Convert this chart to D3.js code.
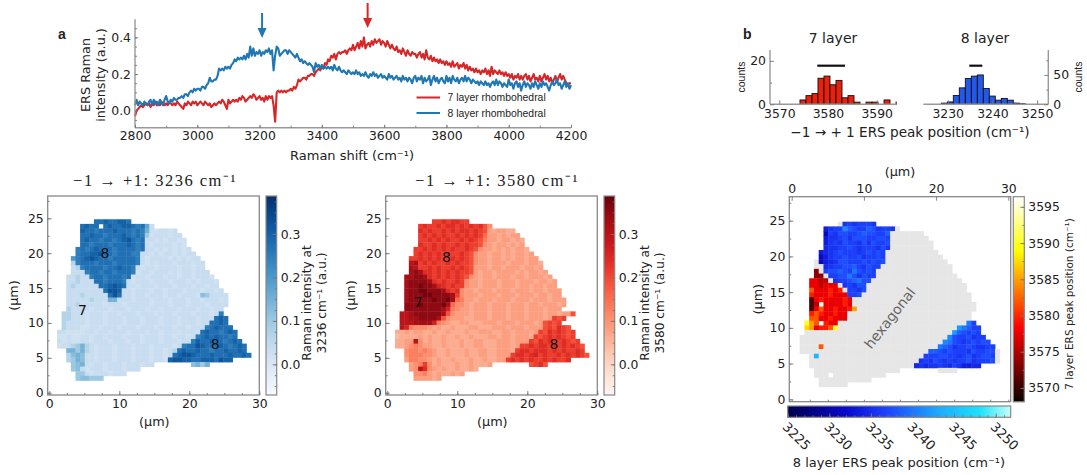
<!DOCTYPE html>
<html>
<head>
<meta charset="utf-8">
<script src="https://cdn.jsdelivr.net/npm/d3@7"></script>
<style>
  html, body { margin: 0; padding: 0; background: #fff; }
  svg { display: block; font-family: "DejaVu Sans", sans-serif; }
  .tick text { fill: #222; font-size: 12.4px; font-family: "DejaVu Sans", sans-serif; }
  .domain { display: none; }
  .tick line { stroke: #777; stroke-width: 0.9; }
</style>
</head>
<body>
<svg id="chart" width="1087" height="475"></svg>
<script>
// spectra, one value every 5 cm-1 from 2800 to 4200
const shiftStart = 2800;
const shiftStep = 5;
const layer7Spectrum = [
  -.03,.00,.01,.02,.03,.02,.03,.04,.03,.04,.02,.04,.03,.05,.03,.04,.03,.05,.04,.03,
  .04,.03,.05,.04,.03,.04,.03,.05,.04,.03,.02,.01,.04,.03,.05,.04,.03,.05,.04,.05,
  .03,.04,.05,.04,.03,.05,.04,.03,.04,.02,.03,.04,.03,.04,.05,.04,.06,.05,.03,.01,
  .06,.04,.05,.06,.05,.06,.05,.07,.06,.08,.07,.05,.06,.07,.08,.07,.09,.08,.06,.07,
  .08,.06,.07,.05,.08,.06,.08,.07,.08,.03,-.06,.10,.11,.10,.11,.10,.11,.10,.11,.11,
  .12,.11,.13,.12,.14,.17,.16,.17,.18,.18,.17,.19,.19,.20,.20,.19,.21,.22,.23,.22,
  .24,.23,.26,.25,.28,.27,.30,.29,.31,.28,.31,.32,.31,.32,.32,.33,.31,.33,.34,.33,
  .36,.33,.35,.37,.34,.38,.35,.40,.34,.36,.37,.35,.38,.36,.39,.37,.38,.39,.36,.38,
  .37,.35,.38,.36,.34,.36,.34,.33,.35,.32,.33,.31,.34,.32,.30,.33,.31,.30,.32,.31,
  .31,.29,.31,.32,.29,.31,.28,.33,.29,.28,.30,.27,.29,.27,.28,.26,.28,.26,.27,.25,
  .27,.25,.26,.24,.27,.24,.25,.26,.23,.25,.24,.26,.23,.25,.22,.24,.22,.23,.21,.23,
  .21,.22,.20,.22,.21,.23,.20,.22,.19,.24,.20,.22,.21,.20,.22,.20,.21,.19,.21,.19,
  .20,.18,.20,.17,.19,.18,.20,.17,.19,.17,.19,.20,.17,.19,.16,.18,.20,.17,.18,.16,
  .19,.16,.18,.20,.17,.19,.16,.18,.15,.17,.19,.16,.18,.20,.17,.19,.17,.15,.14,.15,
  .15
];
const layer8Spectrum = [
  .03,.06,.03,.05,.04,.03,.05,.04,.03,.05,.06,.03,.06,.04,.05,.03,.06,.04,.03,.06,
  .08,.05,.04,.06,.05,.07,.06,.06,.07,.07,.08,.07,.09,.09,.08,.10,.11,.10,.12,.11,
  .12,.12,.11,.13,.13,.12,.14,.15,.18,.16,.16,.17,.17,.19,.23,.22,.23,.22,.24,.23,
  .24,.23,.25,.26,.28,.27,.29,.28,.29,.28,.30,.28,.31,.29,.35,.30,.34,.30,.32,.31,
  .33,.30,.32,.31,.33,.32,.34,.31,.33,.22,.30,.35,.34,.30,.31,.32,.33,.33,.31,.33,
  .32,.31,.30,.29,.31,.29,.27,.28,.26,.27,.26,.25,.26,.25,.24,.21,.26,.24,.25,.23,
  .25,.23,.24,.23,.24,.23,.24,.22,.25,.23,.22,.24,.22,.21,.22,.21,.20,.22,.21,.20,
  .21,.20,.22,.20,.21,.19,.20,.19,.21,.19,.18,.20,.19,.21,.19,.20,.18,.19,.20,.18,
  .19,.18,.17,.20,.18,.19,.17,.18,.19,.17,.18,.16,.19,.17,.18,.16,.18,.17,.15,.18,
  .19,.16,.18,.17,.19,.15,.18,.16,.17,.19,.14,.17,.19,.16,.18,.15,.17,.18,.16,.15,
  .19,.16,.18,.15,.19,.17,.16,.18,.15,.17,.18,.16,.19,.16,.18,.17,.15,.17,.16,.15,
  .16,.14,.16,.15,.14,.16,.14,.15,.13,.15,.16,.14,.17,.14,.16,.15,.13,.15,.14,.13,
  .17,.14,.15,.12,.15,.16,.13,.15,.11,.14,.16,.13,.15,.14,.12,.15,.13,.16,.14,.12,
  .15,.13,.16,.14,.15,.13,.11,.14,.16,.14,.15,.17,.14,.15,.12,.14,.16,.13,.15,.12,
  .14
];

// histograms
const hist7Start = 3574.25;
const hist7Width = 1.232;
const hist7Counts = [2, 4, 5, 12, 13, 9, 11, 3, 4, 1, 0, 1, 1, 0, 2, 0, 1];
const hist8Start = 3228.57;
const hist8Width = 1.342;
const hist8Counts = [2, 4, 15, 28, 44, 48, 50, 27, 14, 7, 10, 7, 2, 1];
const hist7Range = [3577.8, 3583.5];
const hist8Range = [3234.83, 3237.74];

// maps: one string per row, one char per pixel, '.' = no data
const intensityCodes = '0123456789abcdef';
const blueLevels = [0, .02, .035, .07, .1, .125, .15, .175, .2, .225, .25, .275, .3, .325, .35, .375];
const redLevels = [0, .02, .045, .065, .085, .105, .13, .155, .19, .215, .24, .26, .3, .325, .35, .375];

const map3236Rows = [
  "........bbcbbccb",
  ".....bcbb.bcbbccbab72",
  ".....cbbabbbcbbbaba6212212",
  ".....bbcbbabbbcbaba41222122",
  ".....bcbbabbabcdbab221212211",
  ".....bbabbbabbbcbab212222121",
  "....ababcbbbabbbbab2212121212",
  "....abbccdbbabbbaa221212212122",
  "...8abcdcbbabbbbba2122221212122",
  "...3abbbabbbabbbba21212221222122",
  "...23abbbbabbcbba212212222122122",
  "...222abbabbabbba1221222121221222",
  "..22322abbabbbab122122212212212221",
  "..223222bbabbba21222122212221212221",
  "..2322222bbcdcb22122212221222122122",
  "..22222222bddc2212221221222122212212",
  "..222322222bdb22122122212212221542222",
  "..22222322266222122212221222122122212",
  "..22322222122212222212221222122212222",
  "..3222212221222122212212221222122122",
  ".3322212221221222122212221222122212a",
  ".332221222122212221222122212221222bcb",
  ".32222122212221222122212221222122bbcb",
  ".3222112212221222122212221221222abcbbb",
  "2211112212212221222122122212221bcbbabcb",
  "112112212212221222122212212212abcbcbbab",
  "21211221222122212212221222122acbbcbbabcb",
  "122346321222122212221222212abbdcbbbcbabcb",
  "..664632122212221222122123bcbbcbbabbcbbcb",
  "..35652212221222122212212bcddcbbbcbbbcbbcb",
  "..3465221222122212221221cddccbbcccbdcc",
  "...456212212221222122........5646",
  "...452122212221222",
  "....44212221222",
  "....455444"
];

const map3580Rows = [
  "........99a9aa99",
  ".....9a99a9aa9a9a9a85",
  ".....a9a99a9a9aa9a98434433",
  ".....9a9a9a99a9a9a974434344",
  ".....99a9a9a99a9a98644344343",
  ".....a99a9a99a9a998543443434",
  "....99a9a9a9a99a9854434343443",
  "....9a9a9a9a99a985443443434434",
  "...99a9a9a99a9a9854434434344344",
  "...cd9a9a99a9a998544344434443443",
  "...dc99a9a99a9a98444344344434434",
  "...dedaa9a9a9a9984344344443434434",
  "..ddeeda9a9a9a98543443444344344434",
  "..deeeeda9a99a954434443444344434434",
  "..deefeedba9a9954434443444344344344",
  "..deeffeeeda9a5443444344434443443444",
  "..deeeffeeeed95444344434443444344344",
  "..deeeeefeefd764434443444344434443444",
  "..eeefeeeefd7554344434443444344344434",
  "..eeeeeeeedb654434443444344434443444",
  ".ccdeeeeeed8544434443444344434443443448",
  ".ccddeeeed854443344434443444344434989",
  ".cccddddb654334433344434443444348989",
  ".cb65554343343334433344434443444898a98",
  "334344334334333433444334434443498a9a989",
  "233334343343343343334434434443989a9a989",
  "3344c53433433343344333444344498a9a99a989",
  "33456544334333433443334443499a9aa9a9a9a98",
  "..5665654334333433443344439aa9aaa9a9a99a9",
  "..566655433433343344334449aa9ab9a99a9a9a98",
  "..46655434334333433433449a9a9a99a9a99a",
  "...456953433343343334........89a8",
  "...45ca54343343343",
  "....55643433434",
  "....444434"
];

// peak map: '#' = hexagonal, digits = 8 layer, letters = 7 layer
const peak8Codes = '0123456789x';
const peak8Levels = [3231, 3233.5, 3234.5, 3235.5, 3236.5, 3237.5, 3238.5, 3240, 3241, 3242, 3244];
const peak7Codes = 'abcdefghi';
const peak7Levels = [3571, 3573.5, 3575.5, 3577.5, 3579.5, 3582, 3585, 3587.5, 3590];

const peakRows = [
  "........#3434443",
  ".....134486544653443#",
  ".....04355445655446#######",
  ".....13345355544554########",
  ".....13435443535445#########",
  ".....23344543444353#########",
  "....12345444345454###########",
  "....01344544534454############",
  "...#01235544454545#############",
  "...##234455643544###############",
  "...b#45565475454################",
  "...bb#4455753544#################",
  "..ddcc#34456755###################",
  "..ddcddd#34355#####################",
  "..fdddede#4435#####################",
  "..edddeddd445#######################",
  "..adedddded#########################",
  "..ac.dddded##########################",
  "..adfddeddeg#########################",
  "..efeddedd##########################",
  "..ffddeddd##########################",
  ".igf.edd###########################74",
  ".hgdeefi#########################97644",
  ".###############################965454",
  "###############################85445344",
  "##############################8754345455",
  "####f########################765344543344",
  "###########################66545444354455#",
  "..#x######################444554434534554#",
  "..#######################3435434344534445#",
  "..######################23233432431122",
  "...##################........####",
  "...###.###########",
  "....###########",
  "....######"
];

const gridCols = 42;
const gridRows = 35;

const spectrumYTicks = [0, 0.2, 0.4];
const spectrumXTicks = [2800, 3000, 3200, 3400, 3600, 3800, 4000, 4200];
const mapXTicks = [0, 10, 20, 30];
const mapYTicks = [0, 5, 10, 15, 20, 25];
const intensityTicks = [0, 0.1, 0.2, 0.3];
const peak7Ticks = [3570, 3575, 3580, 3585, 3590, 3595];
const peak8Ticks = [3225, 3230, 3235, 3240, 3245, 3250];

const red = '#d62728';
const blue = '#1f77b4';
const frameColor = '#888';
const inkColor = '#222';

const svg = d3.select('#chart');
const sans = '"Liberation Sans", Arial, sans-serif';
const serif = '"Liberation Serif", serif';

function label(x, y, text, opts = {}) {
  const t = svg.append('text')
    .attr('text-anchor', opts.anchor || 'middle')
    .attr('fill', opts.fill || inkColor)
    .attr('font-size', opts.size || 12.8)
    .attr('transform', `translate(${x},${y}) rotate(${opts.rotate || 0})`)
    .text(text);
  if (opts.family) t.attr('font-family', opts.family);
  if (opts.weight) t.attr('font-weight', opts.weight);
  if (opts.spacing) t.attr('letter-spacing', opts.spacing);
  return t;
}

// ticks point inward, minor ones without labels
function drawAxis(makeAxis, scale, offset, major, minor, horizontal, format, size = 4, padding = 4) {
  const g = svg.append('g')
    .attr('transform', horizontal ? `translate(0,${offset})` : `translate(${offset},0)`);
  g.append('g').call(makeAxis(scale).tickValues(minor).tickSize(-2).tickFormat(''));
  g.append('g').call(makeAxis(scale).tickValues(major).tickSize(-size).tickPadding(padding).tickFormat(format || (d => d)));
}

function frame(x0, y0, x1, y1, width = 1.3) {
  svg.append('rect')
    .attr('x', x0).attr('y', y0)
    .attr('width', x1 - x0).attr('height', y1 - y0)
    .attr('fill', 'none')
    .attr('stroke', frameColor)
    .attr('stroke-width', width);
}

function spine(x0, y0, x1, y1) {
  svg.append('line')
    .attr('x1', x0).attr('y1', y0).attr('x2', x1).attr('y2', y1)
    .attr('stroke', '#999')
    .attr('stroke-width', 1.4);
}

// ---- a: spectra
const specX = d3.scaleLinear().domain([2800, 4200]).range([135, 571]);
const specY = d3.scaleLinear().domain([-0.0925, 0.4988]).range([127.7, 19.3]);
const specLine = d3.line()
  .x((d, i) => specX(shiftStart + i * shiftStep))
  .y(d => specY(d));

[[layer7Spectrum, red], [layer8Spectrum, blue]].forEach(([values, color]) => {
  svg.append('path')
    .datum(values)
    .attr('d', specLine)
    .attr('fill', 'none')
    .attr('stroke', color)
    .attr('stroke-width', 2.1)
    .attr('stroke-linejoin', 'round');
});

spine(135, 19.3, 135, 127.7);
spine(135, 127.7, 571, 127.7);
drawAxis(d3.axisBottom, specX, 127.7, spectrumXTicks, d3.range(2800, 4201, 100), true, d => d, 3);
drawAxis(d3.axisLeft, specY, 135, spectrumYTicks, d3.range(-0.05, 0.5, 0.05), false, d3.format('.1f'), 3);

label(352, 160, 'Raman shift (cm⁻¹)', { size: 13 });
label(90, 75, 'ERS Raman', { rotate: -90 });
label(104.5, 75, 'intensity (a.u.)', { rotate: -90 });
label(58, 39, 'a', { family: sans, weight: 'bold', size: 14, anchor: 'start' });

function arrow(xValue, y0, y1, color) {
  const x = specX(xValue);
  svg.append('line')
    .attr('x1', x).attr('x2', x).attr('y1', y0).attr('y2', y1 - 8)
    .attr('stroke', color).attr('stroke-width', 2);
  svg.append('path')
    .attr('d', d3.line()([[x - 4.5, y1 - 10], [x + 4.5, y1 - 10], [x, y1]]))
    .attr('fill', color);
}
arrow(3208, 13, 38, blue);
arrow(3547, 3, 28, red);

[['7 layer rhombohedral', red, 97.5], ['8 layer rhombohedral', blue, 113]].forEach(([name, color, y]) => {
  svg.append('line')
    .attr('x1', 416.5).attr('x2', 440).attr('y1', y).attr('y2', y)
    .attr('stroke', color).attr('stroke-width', 2);
  label(447.5, y + 3.5, name, { anchor: 'start', family: sans, size: 10.4 });
});

// ---- b: histograms
const hist7X = d3.scaleLinear().domain([3568.1, 3594.1]).range([770, 896.7]);
const hist7Y = d3.scaleLinear().domain([0, 25]).range([104.3, 50]);
const hist8X = d3.scaleLinear().domain([3224.54, 3252.5]).range([923.3, 1048.3]);
const hist8Y = d3.scaleLinear().domain([0, 92.5]).range([104.3, 50]);

svg.append('clipPath').attr('id', 'clip7').append('rect')
  .attr('x', 770).attr('y', 50).attr('width', 126.7).attr('height', 55);

function histBins(counts, start, width) {
  return counts.map((c, i) => ({ c, x0: start + i * width, x1: start + (i + 1) * width }));
}
function drawBins(bins, x, y, color, clip) {
  svg.append('g')
    .attr('clip-path', clip || null)
    .selectAll('rect')
    .data(bins.filter(b => b.c > 0))
    .enter()
    .append('rect')
    .attr('x', b => x(b.x0))
    .attr('y', b => y(b.c))
    .attr('width', b => x(b.x1) - x(b.x0))
    .attr('height', b => y(0) - y(b.c))
    .attr('fill', color)
    .attr('stroke', '#111')
    .attr('stroke-width', 0.9);
}
drawBins(histBins(hist7Counts, hist7Start, hist7Width), hist7X, hist7Y, '#ea1f0c', 'url(#clip7)');
drawBins(histBins(hist8Counts, hist8Start, hist8Width), hist8X, hist8Y, '#2458ea');

svg.append('line')
  .attr('x1', hist7X(hist7Range[0])).attr('x2', hist7X(hist7Range[1]))
  .attr('y1', 65.7).attr('y2', 65.7)
  .attr('stroke', '#111').attr('stroke-width', 2.2);
svg.append('line')
  .attr('x1', hist8X(hist8Range[0])).attr('x2', hist8X(hist8Range[1]))
  .attr('y1', 65.7).attr('y2', 65.7)
  .attr('stroke', '#111').attr('stroke-width', 2.2);

spine(770, 50, 770, 104.3);
spine(770, 104.3, 896.7, 104.3);
spine(1048.3, 50, 1048.3, 104.3);
spine(923.3, 104.3, 1048.3, 104.3);
drawAxis(d3.axisBottom, hist7X, 104.3, [3570, 3580, 3590], [3575, 3585], true, null, 4, 5);
drawAxis(d3.axisLeft, hist7Y, 770, [0, 20], [10], false);
drawAxis(d3.axisBottom, hist8X, 104.3, [3230, 3240, 3250], [3235, 3245], true, null, 4, 5);
drawAxis(d3.axisRight, hist8Y, 1048.3, [0, 50], [25, 75], false, null, 4, 5);

label(833, 43, '7 layer', { size: 14 });
label(985, 43, '8 layer', { size: 14 });
label(745, 77, 'counts', { rotate: -90, size: 10.5, family: sans });
label(1082, 77, 'counts', { rotate: -90, size: 10.5, family: sans });
label(910, 136.5, '−1 → + 1 ERS peak position (cm⁻¹)', { size: 13.6 });
label(743, 39, 'b', { family: sans, weight: 'bold', size: 14, anchor: 'start' });

// ---- maps
const colBand = d3.scaleBand().domain(d3.range(gridCols)).range([1.1, 28.82]);
const rowBand = d3.scaleBand().domain(d3.range(gridRows)).range([24.86, 1.76]);

function mapScales(left, right, zero, thirty, top, bottom, y0, y25) {
  const pxPerX = (thirty - zero) / 30;
  const pxPerY = (y0 - y25) / 25;
  return {
    x: d3.scaleLinear().domain([(left - zero) / pxPerX, 30 + (right - thirty) / pxPerX]).range([left, right]),
    y: d3.scaleLinear().domain([(y0 - bottom) / pxPerY, (y0 - top) / pxPerY]).range([bottom, top]),
    left, right, top, bottom
  };
}

function drawCells(rows, m, colorOf) {
  const cells = [];
  rows.forEach((row, r) => row.split('').forEach((ch, c) => {
    if (ch !== '.') cells.push({ r, c, ch });
  }));
  const bw = colBand.bandwidth();
  const bh = rowBand.bandwidth();
  svg.append('g').selectAll('rect')
    .data(cells)
    .enter()
    .append('rect')
    .attr('x', d => m.x(colBand(d.c)))
    .attr('y', d => m.y(rowBand(d.r) + bh))
    .attr('width', m.x(bw) - m.x(0) + 0.4)
    .attr('height', m.y(0) - m.y(bh) + 0.4)
    .attr('fill', d => colorOf(d.ch));
}

function drawMapFrame(m, xlabelY, ylabelX, xOnTop) {
  frame(m.left, m.top, m.right, m.bottom);
  if (xOnTop) {
    drawAxis(d3.axisTop, m.x, m.top, mapXTicks, [], true);
    drawAxis(d3.axisBottom, m.x, m.bottom, [], d3.range(0, 31, 2.5), true);
  } else {
    drawAxis(d3.axisBottom, m.x, m.bottom, mapXTicks, d3.range(0, 31, 2.5), true);
  }
  drawAxis(d3.axisLeft, m.y, m.left, mapYTicks, d3.range(0, 28, 2.5), false);
  label(m.x(15), xlabelY, '(µm)');
  label(ylabelX, (m.top + m.bottom) / 2, '(µm)', { rotate: -90 });
}

function colorbar(x0, x1, y0, y1, domain, colorOf) {
  const s = d3.scaleLinear().domain(domain).range([y0, y1]);
  svg.append('g').selectAll('rect')
    .data(d3.range(Math.min(y0, y1), Math.max(y0, y1), 1))
    .enter()
    .append('rect')
    .attr('x', x0).attr('width', x1 - x0)
    .attr('y', d => d).attr('height', 1.4)
    .attr('fill', d => colorOf(s.invert(d)));
  frame(x0, Math.min(y0, y1), x1, Math.max(y0, y1), 1.2);
  return s;
}

const intensityDomain = [-0.0706, 0.3876];
const blues = d3.scaleSequential(d3.interpolateBlues).domain(intensityDomain);
const reds = d3.scaleSequential(d3.interpolateReds).domain(intensityDomain);

const map1 = mapScales(47.7, 259.3, 49.3, 259.3, 196, 395, 392.7, 218.3);
const map2 = mapScales(385.7, 597.3, 387.3, 597.3, 196, 395, 392.7, 218.3);

drawCells(map3236Rows, map1, ch => blues(blueLevels[intensityCodes.indexOf(ch)]));
drawMapFrame(map1, 426, 18, false);
label(155, 186, '−1 → +1: 3236 cm⁻¹', { family: serif, size: 16.5, spacing: 1.5 });
label(map1.x(7.95), map1.y(20) + 5, '8', { size: 14, fill: '#111' });
label(map1.x(4.75), map1.y(11.9) + 5, '7', { size: 14, fill: '#111' });
label(map1.x(23.7), map1.y(7) + 5, '8', { size: 14, fill: '#111' });

drawCells(map3580Rows, map2, ch => reds(redLevels[intensityCodes.indexOf(ch)]));
drawMapFrame(map2, 426, 355, false);
label(497, 186, '−1 → +1: 3580 cm⁻¹', { family: serif, size: 16.5, spacing: 1.5 });
label(map2.x(8.45), map2.y(19.5) + 5, '8', { size: 14, fill: '#111' });
label(map2.x(4.4), map2.y(13) + 5, '7', { size: 14, fill: '#111' });
label(map2.x(23.8), map2.y(7) + 5, '8', { size: 14, fill: '#111' });

const cb1 = colorbar(266, 276.7, 395, 196, intensityDomain, blues);
drawAxis(d3.axisRight, cb1, 276.7, intensityTicks, d3.range(-0.05, 0.38, 0.025), false, d3.format('.1f'));
label(310.5, 303, 'Raman intensity at', { rotate: -90, size: 12.2 });
label(325.5, 303, '3236 cm⁻¹ (a.u.)', { rotate: -90, size: 12.2 });

const cb2 = colorbar(604, 614.7, 395, 196, intensityDomain, reds);
drawAxis(d3.axisRight, cb2, 614.7, intensityTicks, d3.range(-0.05, 0.38, 0.025), false, d3.format('.1f'));
label(649, 303, 'Raman intensity at', { rotate: -90, size: 12.2 });
label(664, 303, '3580 cm⁻¹ (a.u.)', { rotate: -90, size: 12.2 });

// ---- peak position map
const hot = d3.scaleLinear()
  .domain([3568.1, 3578.4, 3589, 3596.4])
  .range(['#0a0000', '#ff0000', '#ffff00', '#ffffff']);
const ice = d3.scaleLinear()
  .domain([3225, 3232, 3237, 3243, 3248, 3251.8])
  .range(['#00004d', '#0a0ad0', '#1e46ff', '#1eaaff', '#1ee1fa', '#c8fffa']);

function peakColor(ch) {
  if (ch === '#') return '#e6e6e6';
  const i8 = peak8Codes.indexOf(ch);
  if (i8 >= 0) return ice(peak8Levels[i8]);
  return hot(peak7Levels[peak7Codes.indexOf(ch)]);
}

const map3 = mapScales(789.3, 1010.7, 791.7, 1008.3, 196.7, 401.7, 399.3, 220.7);
drawCells(peakRows, map3, peakColor);
drawMapFrame(map3, 176, 762, true);
label(map3.x(13.7), map3.y(11.3), 'hexagonal', { rotate: -52, size: 14, fill: '#666' })
  .attr('dominant-baseline', 'middle');

const cb3 = colorbar(1013.3, 1024.3, 401.7, 196.7, [3568.1, 3596.4], hot);
drawAxis(d3.axisRight, cb3, 1024.3, peak7Ticks, d3.range(3570, 3597, 2.5), false);
label(1073, 304, '7 layer ERS peak position (cm⁻¹)', { rotate: -90, size: 10.5 });

// horizontal colour bar under the map
const peak8Scale = d3.scaleLinear().domain([3225, 3251.8]).range([787.7, 1010.7]);
svg.append('g').selectAll('rect')
  .data(d3.range(787.7, 1010.7, 1))
  .enter()
  .append('rect')
  .attr('x', d => d).attr('width', 1.4)
  .attr('y', 406).attr('height', 11.3)
  .attr('fill', d => ice(peak8Scale.invert(d)));
frame(787.7, 406, 1010.7, 417.3, 1.2);
const peak8Axis = svg.append('g').attr('transform', 'translate(0,417.3)');
peak8Axis.append('g').call(d3.axisBottom(peak8Scale).tickValues(d3.range(3225, 3252, 1)).tickSize(-2).tickFormat(''));
peak8Axis.append('g').call(d3.axisBottom(peak8Scale).tickValues(peak8Ticks).tickSize(-4).tickFormat(d => d))
  .selectAll('text')
  .style('font-size', '13px')
  .attr('text-anchor', 'middle')
  .attr('x', 0).attr('y', 0)
  .attr('dy', '0.35em')
  .attr('transform', 'translate(8.5,19) rotate(45)');
label(899, 467, '8 layer ERS peak position (cm⁻¹)', { size: 13 });
</script>
</body>
</html>
